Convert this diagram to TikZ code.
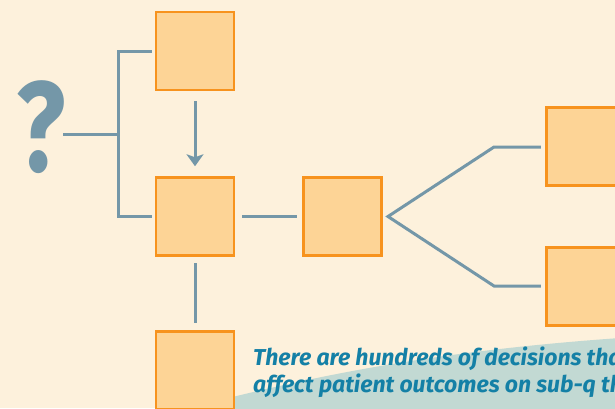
\documentclass[tikz,border=0pt]{standalone}
\usepackage{fontspec}
\setmainfont{Fira Sans}
\usetikzlibrary{arrows.meta}
\definecolor{bg}{HTML}{FDF1DC}
\definecolor{boxfill}{HTML}{FDD496}
\definecolor{boxline}{HTML}{F7931E}
\definecolor{conn}{HTML}{7497A8}
\definecolor{tealbg}{HTML}{C2D9D3}
\definecolor{txt}{HTML}{1480A6}
\tikzset{
  stepbox/.style={draw=boxline, fill=boxfill, line width=2.5pt, minimum size=78pt, inner sep=0pt},
  conline/.style={draw=conn, line width=3pt},
  note/.style={text=txt, font=\fontsize{23}{27}\selectfont\bfseries\itshape, anchor=base west, inner sep=0pt}
}
\begin{document}
\begin{tikzpicture}[x=1pt,y=-1pt]
\useasboundingbox (0,0) rectangle (615,408);
\clip (0,0) rectangle (615,408);
\fill[bg] (0,0) rectangle (615,408);
% teal curved area
\fill[tealbg] (200,405) .. controls (300,380) and (420,352) .. (620,338) -- (620,420) -- (200,420) -- cycle;
% question mark
\node[text=conn, font=\fontsize{128}{128}\selectfont\bfseries, inner sep=0pt] (q) at (41,127) {\scalebox{0.8}[1]{?}};
% boxes
\node[stepbox] (b1) at (195,51) {};
\node[stepbox] (b2) at (195,216.5) {};
\node[stepbox] (b3) at (342.5,216.5) {};
\node[stepbox] (b4) at (585.5,146.5) {};
\node[stepbox] (b5) at (585.5,286.5) {};
\node[stepbox] (b6) at (195,370.5) {};
% connector coordinates
\coordinate (qe) at (63,134);
\coordinate (jx) at (118,134);
\coordinate (ap) at (388,216.5);
\coordinate (c1) at (494,147);
\coordinate (c2) at (494,286);
% connectors
\draw[conline] (qe) -- (jx);
\draw[conline] ([xshift=-3pt]b1.west) -| (jx) |- ([xshift=-3pt]b2.west);
\draw[conline, -{Stealth[length=12pt,width=17pt,inset=3pt]}] ([yshift=-10pt]b1.south) -- ([yshift=10pt]b2.north);
\draw[conline] ([xshift=7pt]b2.east) -- ([xshift=-5.5pt]b3.west);
\draw[conline] ([yshift=-6.5pt]b2.south) -- ([yshift=7.5pt]b6.north);
\draw[conline, line join=miter] ([xshift=-4.5pt]b4.west |- c1) -- (c1) -- (ap) -- (c2) -- ([xshift=-4.5pt]b5.west |- c2);
% text
\node[note] (t1) at (253,365) {There are hundreds of decisions tha};
\node[note] (t2) at (253,392) {affect patient outcomes on sub-q th};
\end{tikzpicture}
\end{document}
